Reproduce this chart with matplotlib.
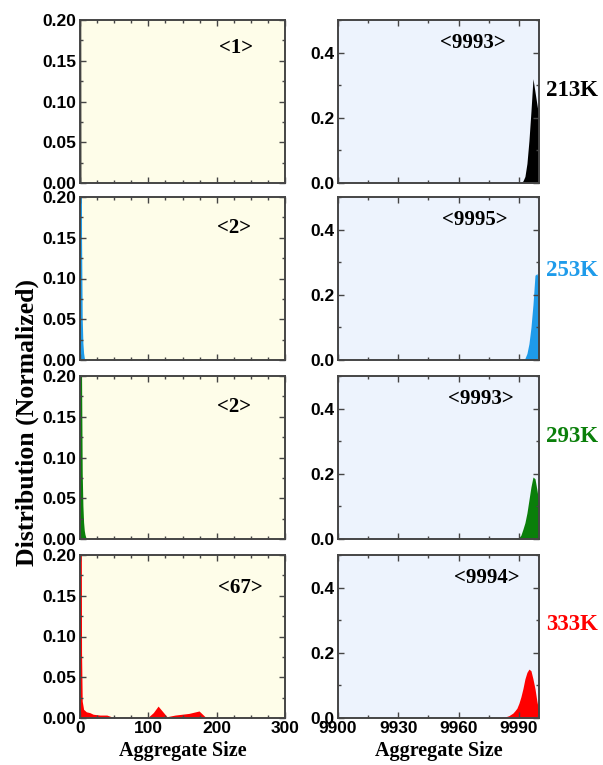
import matplotlib
matplotlib.use("Agg")
import matplotlib.pyplot as plt
from matplotlib.ticker import MultipleLocator, FixedLocator
import numpy as np

# ---------------- data ----------------
temps = ["213K", "253K", "293K", "333K"]
colors = ["#000000", "#1E9BEA", "#0A7F0A", "#FF0000"]

left_means = ["<1>", "<2>", "<2>", "<67>"]
right_means = ["<9993>", "<9995>", "<9993>", "<9994>"]

# small aggregates (left column)
left_x_213 = [0, 1, 2]
left_y_213 = [0.0, 1.0, 0.0]
left_x_253 = [0, 1, 2, 3, 4, 5, 6, 7, 8]
left_y_253 = [1.0, 1.0, 0.6, 0.15, 0.05, 0.02, 0.008, 0.002, 0.0]
left_x_293 = [0, 1, 2, 3, 4, 5, 6, 7, 8, 9, 10]
left_y_293 = [1.0, 1.0, 0.7, 0.2, 0.08, 0.04, 0.02, 0.01, 0.005, 0.002, 0.0]
left_x_333 = [0, 1, 2, 3, 4, 6, 10, 15, 20, 30, 40, 45, 50, 100, 108, 115, 122, 128, 140,
              150, 160, 170, 175, 180, 185]
left_y_333 = [1.0, 1.0, 0.5, 0.08, 0.02, 0.01, 0.007, 0.006, 0.004, 0.003, 0.003, 0.0015,
              0.0, 0.0, 0.006, 0.014, 0.007, 0.001, 0.003, 0.004, 0.005, 0.007, 0.008, 0.004, 0.0]

# large aggregates (right column)
right_x_213 = [9990, 9991, 9992, 9993, 9994, 9995, 9996, 9997, 9998, 9999, 10000]
right_y_213 = [0.0, 0.002, 0.006, 0.02, 0.06, 0.13, 0.22, 0.32, 0.28, 0.24, 0.2]
right_x_253 = [9991, 9992, 9993, 9994, 9995, 9996, 9997, 9998, 9999, 10000]
right_y_253 = [0.0, 0.001, 0.005, 0.02, 0.05, 0.1, 0.17, 0.26, 0.265, 0.24]
right_x_293 = [9988, 9989, 9990, 9991, 9992, 9993, 9994, 9995, 9996, 9997, 9998, 9999, 10000]
right_y_293 = [0.0, 0.001, 0.004, 0.012, 0.03, 0.05, 0.08, 0.12, 0.16, 0.19, 0.185, 0.15, 0.11]
right_x_333 = [9975, 9980, 9983, 9985, 9987, 9988, 9989, 9990, 9991, 9992, 9993, 9994, 9995,
               9996, 9997, 9998, 9999, 10000]
right_y_333 = [0.0, 0.001, 0.003, 0.007, 0.015, 0.022, 0.03, 0.045, 0.065, 0.09, 0.12, 0.14,
               0.15, 0.145, 0.12, 0.09, 0.05, 0.02]

left_data = [(left_x_213, left_y_213), (left_x_253, left_y_253),
             (left_x_293, left_y_293), (left_x_333, left_y_333)]
right_data = [(right_x_213, right_y_213), (right_x_253, right_y_253),
              (right_x_293, right_y_293), (right_x_333, right_y_333)]

left_xticks = [0, 100, 200, 300]
right_xticks = [9900, 9930, 9960, 9990]
left_yticks = [0.00, 0.05, 0.10, 0.15, 0.20]
right_yticks = [0.0, 0.2, 0.4]

# ---------------- style ----------------
SANS = "Liberation Sans"
SERIF = "Liberation Serif"
LEFT_BG = "#FEFDE9"
RIGHT_BG = "#EDF3FD"
SPINE = "#454545"

W, H = 603, 765
fig = plt.figure(figsize=(W / 100, H / 100), dpi=100)

row_tops = [20, 197, 376, 555]
ax_h = 163
lx0, lw = 80, 205
rx0, rw = 338, 201


def style(ax, bg):
    ax.set_facecolor(bg)
    for s in ax.spines.values():
        s.set_color(SPINE)
        s.set_linewidth(1.4)
    ax.tick_params(which="both", direction="in", top=True, right=True,
                   color=SPINE, width=1.0)
    ax.tick_params(which="major", length=4, pad=2.5)
    ax.tick_params(which="minor", length=2.5)
    for lab in ax.get_xticklabels() + ax.get_yticklabels():
        lab.set_fontfamily(SANS)
        lab.set_fontweight("bold")
        lab.set_fontsize(12.5)


for i in range(4):
    top = row_tops[i]
    bottom_frac = 1 - (top + ax_h) / H
    axl = fig.add_axes([lx0 / W, bottom_frac, lw / W, ax_h / H])
    axr = fig.add_axes([rx0 / W, bottom_frac, rw / W, ax_h / H])

    lx, ly = left_data[i]
    axl.fill_between(lx, 0, ly, color=colors[i], linewidth=0)
    axl.set_xlim(0, 300)
    axl.set_ylim(0, 0.2)
    axl.xaxis.set_major_locator(FixedLocator(left_xticks))
    axl.xaxis.set_minor_locator(MultipleLocator(25))
    axl.yaxis.set_major_locator(FixedLocator(left_yticks))
    axl.yaxis.set_minor_locator(MultipleLocator(0.025))
    axl.set_yticklabels([f"{v:.2f}" for v in left_yticks])

    rx, ry = right_data[i]
    axr.fill_between(rx, 0, ry, color=colors[i], linewidth=0)
    axr.set_xlim(9900, 10000)
    axr.set_ylim(0, 0.5)
    axr.xaxis.set_major_locator(FixedLocator(right_xticks))
    axr.xaxis.set_minor_locator(MultipleLocator(15))
    axr.yaxis.set_major_locator(FixedLocator(right_yticks))
    axr.yaxis.set_minor_locator(MultipleLocator(0.1))
    axr.set_yticklabels([f"{v:.1f}" for v in right_yticks])

    if i < 3:
        axl.set_xticklabels([])
        axr.set_xticklabels([])
    else:
        axl.set_xticklabels([str(v) for v in left_xticks])
        axr.set_xticklabels([str(v) for v in right_xticks])
        for ax in (axl, axr):
            ax.set_xlabel("Aggregate Size", fontfamily=SERIF, fontweight="bold",
                          fontsize=14.5, labelpad=3)

    style(axl, LEFT_BG)
    style(axr, RIGHT_BG)

    lpos = [(0.76, 0.83), (0.75, 0.81), (0.75, 0.81), (0.78, 0.80)][i]
    rpos = [(0.67, 0.86), (0.68, 0.86), (0.71, 0.86), (0.74, 0.86)][i]
    axl.text(*lpos, left_means[i], transform=axl.transAxes, ha="center", va="center",
             fontfamily=SERIF, fontweight="bold", fontsize=15)
    axr.text(*rpos, right_means[i], transform=axr.transAxes, ha="center", va="center",
             fontfamily=SERIF, fontweight="bold", fontsize=15)

    ty = [90, 270, 437, 625][i]
    fig.text(572 / W, 1 - ty / H, temps[i], ha="center", va="center", color=colors[i],
             fontfamily=SERIF, fontweight="bold", fontsize=16.5)

fig.text(27 / W, 1 - 423 / H, "Distribution (Normalized)", rotation=90,
         ha="center", va="center", fontfamily=SERIF, fontweight="bold", fontsize=18.5)

fig.savefig("out.png", dpi=100)
